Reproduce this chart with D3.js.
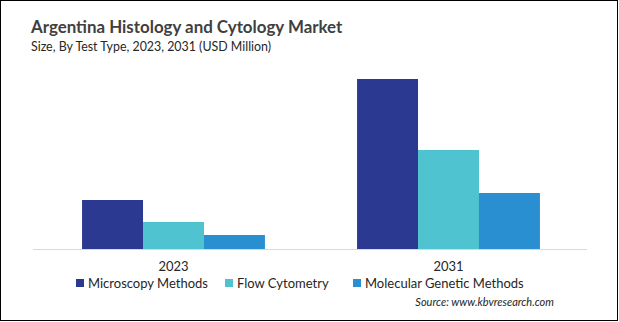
<!DOCTYPE html>
<html><head><meta charset="utf-8">
<script src="https://cdn.jsdelivr.net/npm/d3@7"></script>
<style>body{margin:0;background:#fff}svg{display:block}</style>
</head><body>
<svg id="c" width="619" height="322"></svg>
<script>
const categories = ["2023", "2031"];
const seriesNames = ["Microscopy Methods", "Flow Cytometry", "Molecular Genetic Methods"];
const microscopy = [49, 170];
const flowCytometry = [27, 99];
const molecularGenetic = [14, 56];
const colors = ["#2B3990", "#4FC3CF", "#2A8FD0"];

const seriesValues = [microscopy, flowCytometry, molecularGenetic];
const svg = d3.select("#c");
const font = "Lato, 'Open Sans', sans-serif";

svg.append("rect").attr("x",0.5).attr("y",0.5).attr("width",617).attr("height",320)
  .attr("fill","#fff").attr("stroke","#000").attr("stroke-width",1);

svg.append("text").attr("x",31).attr("y",33).attr("font-family",font).attr("font-weight","bold")
  .attr("font-size",16.9).attr("fill","#404040").text("Argentina Histology and Cytology Market");
svg.append("text").attr("x",31).attr("y",51).attr("font-family",font)
  .attr("font-size",12.4).attr("fill","#262626").text("Size, By Test Type, 2023, 2031 (USD Million)");

const x0 = d3.scaleBand().domain(categories).range([36,586]).paddingInner(0.335).paddingOuter(0.1675);
const x1 = d3.scaleBand().domain(seriesNames).range([0, x0.bandwidth()]);
const y = d3.scaleLinear().domain([0,170]).range([249,79]);

const groups = svg.append("g").selectAll("g").data(categories).join("g")
  .attr("transform", d => `translate(${x0(d)},0)`);
groups.selectAll("rect").data((c,i) => seriesNames.map((s,j) => ({s, v: seriesValues[j][i], j})))
  .join("rect")
  .attr("x", d => x1(d.s)).attr("width", x1.bandwidth())
  .attr("y", d => y(d.v)).attr("height", d => y(0) - y(d.v))
  .attr("fill", d => colors[d.j]);

const axis = svg.append("g").attr("transform","translate(0,249.5)")
  .call(d3.axisBottom(x0).tickSize(0).tickPadding(12));
axis.select(".domain").attr("stroke","#d9d9d9").attr("d","M33,0H587");
axis.selectAll("text").attr("font-family",font).attr("font-size",13).attr("fill","#262626");

const legendX = [76, 225, 353];
const lg = svg.append("g").selectAll("g").data(seriesNames).join("g")
  .attr("transform", (d,i) => `translate(${legendX[i]},279)`);
lg.append("rect").attr("width",8).attr("height",8).attr("fill",(d,i)=>colors[i]);
lg.append("text").attr("x",12).attr("y",8.5).attr("font-family",font).attr("font-size",13)
  .attr("fill","#262626").text(d=>d);

svg.append("text").attr("x",554).attr("y",306).attr("text-anchor","end").attr("font-family",font)
  .attr("font-style","italic").attr("font-size",11).attr("fill","#262626").text("Source: www.kbvresearch.com");
</script>
</body></html>
